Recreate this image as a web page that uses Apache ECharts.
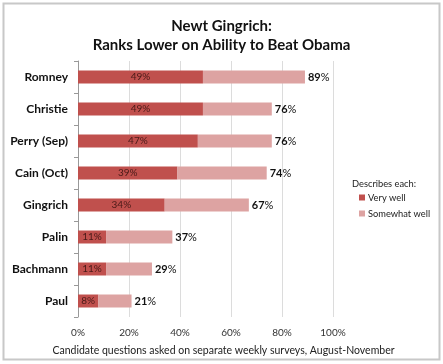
<!DOCTYPE html>
<html><head><meta charset="utf-8">
<script src="https://cdn.jsdelivr.net/npm/echarts@6/dist/echarts.min.js"></script>
<style>html,body{margin:0;padding:0;background:#fff}#c{width:443px;height:364px}</style>
</head><body><div id="c"></div>
<script>
var categories = ['Romney','Christie','Perry (Sep)','Cain (Oct)','Gingrich','Palin','Bachmann','Paul'];
var veryWell = [49,49,47,39,34,11,11,8];
var totals = [89,76,76,74,67,37,29,21];
var somewhatWell = totals.map(function(t,i){return t - veryWell[i];});
var xTicks = [0,20,40,60,80,100];

var FONT = 'Lato';
var chart = echarts.init(document.getElementById('c'));
chart.setOption({
  animation:false,
  textStyle:{fontFamily:FONT},
  title:[{
    text:'Newt Gingrich:\nRanks Lower on Ability to Beat Obama',
    left:'center', top:12,
    textStyle:{fontFamily:FONT,fontSize:15,fontWeight:'bold',color:'#111',lineHeight:19}
  },{
    text:'Describes each:', left:347, top:174,
    textStyle:{fontFamily:FONT,fontSize:9.3,fontWeight:'normal',color:'#222'}
  }],
  legend:{
    orient:'vertical', left:354, top:188, itemWidth:6, itemHeight:6, itemGap:7,
    icon:'rect',
    textStyle:{fontFamily:FONT,fontSize:9.3,color:'#222',padding:[0,0,0,-2]},
    data:['Very well','Somewhat well']
  },
  graphic:[{type:'rect',shape:{x:3.5,y:3.5,width:436,height:356},style:{fill:'none',stroke:'#c8c8c8',lineWidth:2}}],
  grid:{left:78,right:110,top:61,bottom:47},
  xAxis:{
    type:'value', min:0, max:100, interval:20,
    axisLine:{show:false}, axisTick:{show:false},
    splitLine:{lineStyle:{color:'#dcdcdc',width:1}},
    axisLabel:{formatter:function(v){return v+'%';},fontSize:10,color:'#333',margin:11},
    name:'Candidate questions asked on separate weekly surveys, August-November',
    nameLocation:'middle', nameGap:28,
    nameTextStyle:{fontSize:10.5,color:'#222',padding:[0,0,0,36]}
  },
  yAxis:{
    type:'category', data:categories, inverse:true,
    axisLine:{lineStyle:{color:'#999'}},
    axisTick:{show:true,inside:false,length:4,lineStyle:{color:'#999'}},
    axisLabel:{fontSize:12,fontWeight:'bold',color:'#111',margin:10}
  },
  series:[{
    name:'Very well', type:'bar', stack:'a', data:veryWell, barWidth:13,
    itemStyle:{color:'#c0504d'},
    label:{show:true,position:'inside',formatter:'{c}%',fontSize:10,color:'#4a1a18'}
  },{
    name:'Somewhat well', type:'bar', stack:'a', data:somewhatWell, barWidth:13,
    itemStyle:{color:'#dda3a2'},
    label:{show:true,position:'right',distance:3,
      formatter:function(p){return '{b|'+totals[p.dataIndex]+'}{n|%}';},
      rich:{b:{fontFamily:FONT,fontSize:11,fontWeight:'bold',color:'#111'},n:{fontFamily:FONT,fontSize:11,color:'#111'}}}
  }]
});
</script></body></html>
